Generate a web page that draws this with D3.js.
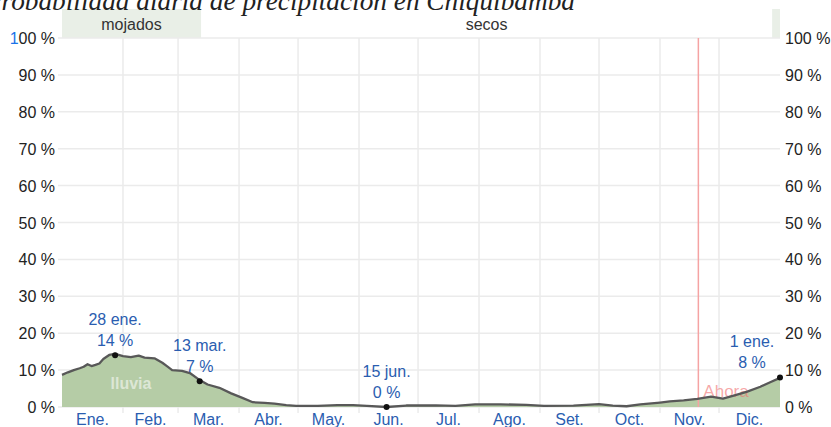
<!DOCTYPE html>
<html><head><meta charset="utf-8">
<script src="https://cdn.jsdelivr.net/npm/d3@7"></script>
<style>body{margin:0;background:#fff;}svg{display:block;}</style>
</head><body>
<svg id="c" width="831" height="427"></svg>
<script>
const title = "Probabilidad diaria de precipitación en Chiquibamba";
const months = ["Ene.","Feb.","Mar.","Abr.","May.","Jun.","Jul.","Ago.","Set.","Oct.","Nov.","Dic."];
const monthStarts = [0,31,59,90,120,151,181,212,243,273,304,334,365];
const yTicks = [0,10,20,30,40,50,60,70,80,90,100];
// day of year (0 = 1 ene.) and daily chance of rain (%)
const days = [0,3,6,9,11,13,15,17,19,21,24,27,31,35,39,42,47,51,53,56,61,65,70,74,80,86,92,97,103,108,114,119,130,140,148,155,165,175,190,200,210,223,236,245,260,273,280,287,294,304,309,316,323,330,336,341,348,355,360,365];
const rain = [8.7,9.4,10.0,10.5,10.9,11.6,11.1,11.4,11.8,13.0,14.1,14.4,13.8,13.5,13.9,13.4,13.2,12.0,11.2,10.0,9.8,9.2,7.3,6.1,5.2,3.7,2.4,1.3,1.1,0.9,0.5,0.3,0.3,0.5,0.5,0.3,0.0,0.4,0.45,0.3,0.7,0.7,0.6,0.3,0.35,0.8,0.4,0.2,0.7,1.2,1.5,1.8,2.2,2.8,2.3,3.0,4.1,5.5,6.7,7.9];
const seasonNames = ["mojados","secos","mojados"];
const seasonStart = [0,70.7,361];
const seasonEnd = [70.7,361,365];
const markDays = [27,70,165,365];
const markDate = ["28 ene.","13 mar.","15 jun.","1 ene."];
const markVal = [14,7,0,8];
const nowDay = 323.5;

const svg = d3.select("#c");
const x = d3.scaleLinear().domain([0,365]).range([62,780]);
const y = d3.scaleLinear().domain([0,100]).range([407,38]);
const font = "'Liberation Sans', Arial, sans-serif";

// season bands
const bands = svg.append("g");
seasonNames.forEach((n,i)=>{
  const x0 = x(seasonStart[i]), x1 = x(seasonEnd[i]);
  bands.append("rect").attr("x",x0).attr("y",9).attr("width",x1-x0).attr("height",29)
    .attr("fill", n==="mojados" ? "#e9efe7" : "none");
  if (x1-x0 > 40) bands.append("text").attr("x",(x0+x1)/2).attr("y",30).attr("text-anchor","middle")
    .attr("font-family",font).attr("font-size",16).attr("fill","#333").text(n);
});

// title (cut off at top-left, as in the reference)
svg.append("text").attr("x",575).attr("y",10).attr("text-anchor","end")
  .attr("font-family","'Liberation Serif', serif").attr("font-style","italic")
  .attr("font-size",27.3).attr("fill","#222").text(title);

// grid
const grid = svg.append("g");
yTicks.forEach(t=>{
  grid.append("line").attr("x1",58).attr("x2",780).attr("y1",y(t)).attr("y2",y(t))
    .attr("stroke","#ebebeb").attr("stroke-width",1.5);
});
monthStarts.slice(1,12).forEach(d=>{
  grid.append("line").attr("x1",x(d)).attr("x2",x(d)).attr("y1",38).attr("y2",413)
    .attr("stroke","#ebebeb").attr("stroke-width",1.5);
});

// y labels
yTicks.forEach(t=>{
  const tl = svg.append("text").attr("x",55).attr("y",y(t)+6).attr("text-anchor","end")
    .attr("font-family",font).attr("font-size",16).attr("fill","#222");
  if (t===100){ tl.append("tspan").attr("fill","#1a73e8").text("1"); tl.append("tspan").text("00 %"); }
  else tl.text(t+" %");
  svg.append("text").attr("x",785).attr("y",y(t)+6).attr("text-anchor","start")
    .attr("font-family",font).attr("font-size",16).attr("fill","#222").text(t+" %");
});

// month labels
months.forEach((m,i)=>{
  svg.append("text").attr("x",x((monthStarts[i]+monthStarts[i+1])/2)).attr("y",425)
    .attr("text-anchor","middle").attr("font-family",font).attr("font-size",16)
    .attr("fill","#2a5db0").text(m);
});

const pts = days.map((d,i)=>[d,rain[i]]);
svg.append("path").datum(pts)
  .attr("d", d3.area().x(d=>x(d[0])).y0(y(0)).y1(d=>y(d[1])))
  .attr("fill","#b5cca6");
svg.append("text").attr("x",131).attr("y",389).attr("text-anchor","middle")
  .attr("font-family",font).attr("font-size",16).attr("font-weight","bold")
  .attr("fill","rgba(255,255,255,0.55)").text("lluvia");

// now line
svg.append("line").attr("x1",x(nowDay)).attr("x2",x(nowDay)).attr("y1",38).attr("y2",407)
  .attr("stroke","#f5a3a3").attr("stroke-width",1.5);
svg.append("text").attr("x",x(nowDay)+5).attr("y",397).attr("font-family",font).attr("font-size",17)
  .attr("fill","rgba(240,110,110,0.6)").text("Ahora");

svg.append("path").datum(pts)
  .attr("d", d3.line().x(d=>x(d[0])).y(d=>y(d[1])))
  .attr("fill","none").attr("stroke","#585858").attr("stroke-width",2.3).attr("stroke-linejoin","round");

// marked points
markDays.forEach((d,i)=>{
  const cx = x(d), cy = y(markVal[i]);
  svg.append("circle").attr("cx",cx).attr("cy",cy).attr("r",3).attr("fill","#111");
  const lx = Math.min(cx, 752);
  svg.append("text").attr("x",lx).attr("y",cy-30).attr("text-anchor","middle")
    .attr("font-family",font).attr("font-size",16).attr("fill","#2a5db0").text(markDate[i]);
  svg.append("text").attr("x",lx).attr("y",cy-9).attr("text-anchor","middle")
    .attr("font-family",font).attr("font-size",16).attr("fill","#2a5db0").text(markVal[i]+" %");
});
</script>
</body></html>
